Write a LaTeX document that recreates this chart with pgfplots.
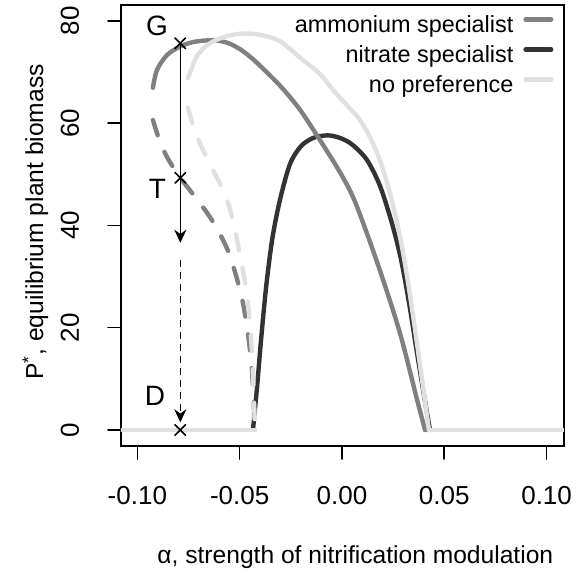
\documentclass[border=0pt]{standalone}
\usepackage{fontspec}
\setmainfont{Liberation Sans}
\usepackage{pgfplots}
\pgfplotsset{compat=1.18}
\usetikzlibrary{arrows.meta}

\definecolor{ammon}{gray}{0.50}
\definecolor{nitra}{gray}{0.20}
\definecolor{nopref}{gray}{0.88}
\newcommand\lab{\fontsize{13}{15}\selectfont}
\newcommand\axlab{\fontsize{12.3}{14}\selectfont}

\begin{document}
\begin{tikzpicture}
\begin{axis}[
    scale only axis, width=221.5pt, height=220.5pt,
    xmin=-0.1080, xmax=0.1085, ymin=-3.13, ymax=83.09,
    axis line style={line width=0.8pt},
    tick style={line width=0.8pt, black},
    tick align=outside, major tick length=6.5pt, tick pos=left,
    xtick={-0.1,-0.05,0,0.05,0.1}, xticklabels={-0.10,-0.05,0.00,0.05,0.10},
    ytick={0,20,40,60,80}, yticklabels={0,20,40,60,80},
    xticklabel style={font=\lab, inner sep=0pt, yshift=-18.5pt, anchor=center},
    yticklabel style={font=\lab, inner sep=0pt, xshift=-19pt, rotate=90, anchor=center},
    xlabel={α, strength of nitrification modulation},
    xlabel style={font=\axlab, at={(axis description cs:0.529,-0.266)}, anchor=base},
    ylabel={P\textsuperscript{*}, equilibrium plant biomass},
    ylabel style={font=\axlab, at={(axis description cs:-0.176,0.508)}, anchor=base},
    legend style={draw=none, fill=none, at={(axis description cs:0.977,0.977)},
        anchor=north east, font=\fontsize{11.7}{14}\selectfont, row sep=5pt,
        inner sep=0pt, nodes={inner sep=0pt},
        /tikz/every odd column/.style={column sep=5pt}},
    legend cell align=right, legend plot pos=right,
    legend image code/.code={\draw[#1, line cap=round] (0pt,3pt) -- (12.8pt,3pt);},
    line cap=round,
]
\addlegendimage{ammon, line width=2.2pt}
\addlegendentry{ammonium specialist}
\addlegendimage{nitra, line width=2.2pt}
\addlegendentry{nitrate specialist}
\addlegendimage{nopref, line width=2.2pt}
\addlegendentry{no preference}

% nitrate specialist
\addplot[nitra, line width=2.2pt, smooth, forget plot] coordinates {
(-0.0435,0) (-0.0415,8.4) (-0.0395,17.8) (-0.0370,28.2) (-0.0340,37.5) (-0.0303,45)
(-0.0254,52) (-0.0200,55.5) (-0.0140,57.1) (-0.0070,57.6) (-0.0010,57.1) (0.0050,55.8)
(0.0122,52.8) (0.0185,47.8) (0.0240,41) (0.0285,34) (0.0325,25.5) (0.0365,15.5)
(0.0400,7) (0.0430,0)};
\addplot[nitra, line width=2.2pt, forget plot] coordinates {(-0.12,0) (-0.0435,0)};
\addplot[nitra, line width=2.2pt, forget plot] coordinates {(0.0430,0) (0.12,0)};

% ammonium specialist
\addplot[ammon, line width=2.2pt, smooth, forget plot] coordinates {
(-0.0924,66.9) (-0.0904,70.4) (-0.0855,73.3) (-0.0790,75.0) (-0.0720,75.9) (-0.0630,76.2)
(-0.0560,75.7) (-0.0500,74.5) (-0.0450,73.0) (-0.0400,71.2) (-0.0300,67.2) (-0.0205,62.6)
(-0.0108,56.7) (-0.0010,50.4) (0.0064,44.6) (0.0176,32.3) (0.0283,19.0) (0.0367,5.9)
(0.0406,0)};
\addplot[ammon, line width=2.2pt, smooth, dash pattern=on 8pt off 9pt, forget plot] coordinates {
(-0.0924,60.6) (-0.0890,56.4) (-0.0850,53) (-0.0790,49.3) (-0.0730,46.2) (-0.0660,42.5)
(-0.0610,39.3) (-0.0560,35.3) (-0.0520,30.5) (-0.0485,25) (-0.0460,19) (-0.0442,12.5)
(-0.0432,6) (-0.0427,0)};
\addplot[ammon, line width=2.2pt, forget plot] coordinates {(-0.12,0) (-0.0427,0)};
\addplot[ammon, line width=2.2pt, forget plot] coordinates {(0.0406,0) (0.12,0)};

% no preference
\addplot[nopref, line width=2.2pt, smooth, forget plot] coordinates {
(-0.0753,68.8) (-0.0710,73.0) (-0.0660,75.2) (-0.0600,76.5) (-0.0530,77.3) (-0.0464,77.5)
(-0.0390,77.2) (-0.0303,76.0) (-0.0205,72.8) (-0.0108,69.6) (-0.0044,66.5) (0.0040,62.8)
(0.0090,60.5) (0.0140,57.0) (0.0190,52.2) (0.0240,45.5) (0.0290,36.5) (0.0332,26.5)
(0.0381,12.8) (0.0425,0)};
\addplot[nopref, line width=2.2pt, smooth, dash pattern=on 8pt off 9pt, forget plot] coordinates {
(-0.0753,63) (-0.0720,58.6) (-0.0680,54.8) (-0.0635,51.2) (-0.0590,47.6) (-0.0550,43.5)
(-0.0520,38.5) (-0.0490,32.5) (-0.0465,26.5) (-0.0448,20) (-0.0437,13) (-0.0430,6)
(-0.0425,0)};
\addplot[nopref, line width=2.2pt, forget plot] coordinates {(-0.12,0) (-0.0425,0)};
\addplot[nopref, line width=2.2pt, forget plot] coordinates {(0.0425,0) (0.12,0)};

% transitions G -> T -> D
\addplot[black, line width=0.8pt, line cap=butt, -{Stealth[length=6.5pt,width=6pt]}, forget plot]
  coordinates {(-0.079,75.6) (-0.079,36.6)};
\addplot[black, line width=0.8pt, line cap=butt, dash pattern=on 3.3pt off 2.7pt,
  -{Stealth[length=6.5pt,width=6pt]}, forget plot]
  coordinates {(-0.079,33.2) (-0.079,1.5)};
\addplot[black, only marks, mark=x, mark size=3.75pt, line width=0.8pt, forget plot]
  coordinates {(-0.079,75.6) (-0.079,49.3) (-0.079,0)};
\node[font=\fontsize{14}{16}\selectfont, inner sep=0pt] at (axis cs:-0.0904,79.0) {G};
\node[font=\fontsize{14}{16}\selectfont, inner sep=0pt] at (axis cs:-0.0902,47.1) {T};
\node[font=\fontsize{14}{16}\selectfont, inner sep=0pt] at (axis cs:-0.0914,6.6) {D};

\coordinate (bl) at (rel axis cs:-0.2731,-0.2880);
\coordinate (tr) at (rel axis cs:1.0384,1.0113);
\end{axis}
\pgfresetboundingbox
\useasboundingbox (bl) rectangle (tr);
\end{tikzpicture}
\end{document}
